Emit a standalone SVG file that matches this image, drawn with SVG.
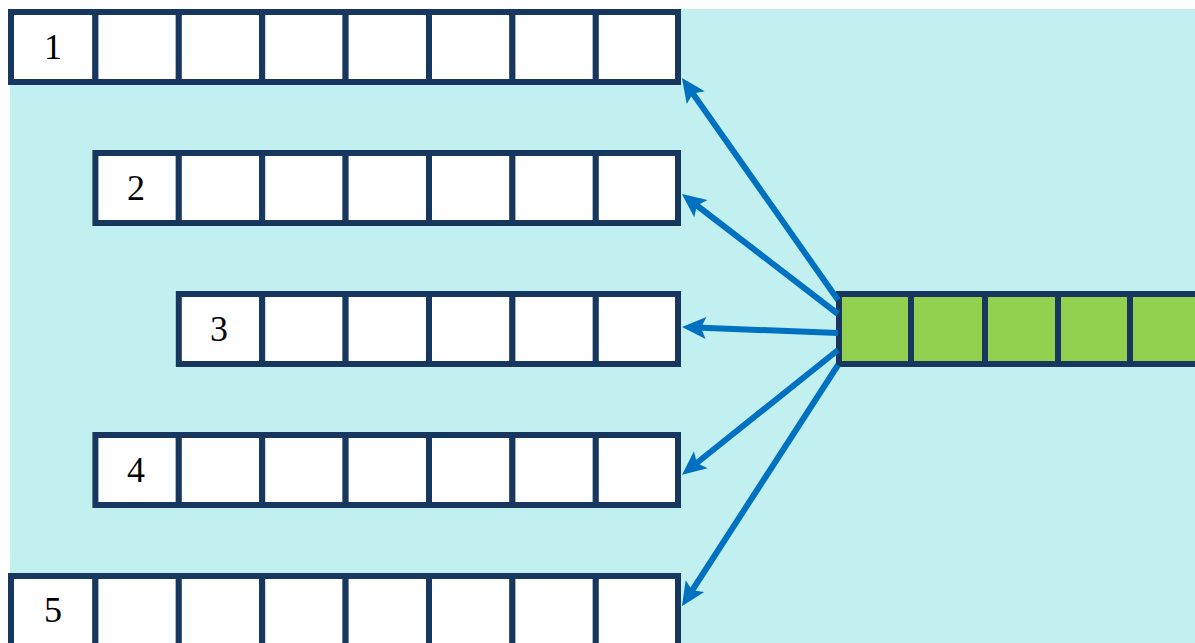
<svg xmlns="http://www.w3.org/2000/svg" width="1195" height="643" viewBox="0 0 1195 643">
<style>
.cell{fill:#FFFFFF;stroke:#17375E;stroke-width:6}
.gcell{fill:#92D050;stroke:#17375E;stroke-width:6}
.lbl{font-family:"Liberation Serif","Times New Roman",serif;font-size:36px;fill:#000;text-anchor:middle}
.arr{stroke:#0070C0;stroke-width:6;fill:none;marker-end:url(#ah)}
</style>
<defs>
<marker id="ah" markerUnits="userSpaceOnUse" markerWidth="26" markerHeight="24" refX="10" refY="11" orient="auto" overflow="visible">
<path d="M0,0 L24,11 L0,22 L5,11 Z" fill="#0070C0"/>
</marker>
</defs>
<rect x="0" y="0" width="1195" height="643" fill="#FFFFFF"/>
<rect x="10" y="9" width="1185" height="634" fill="#C2F0F0"/>
<g id="row1">
<rect class="cell" x="11" y="12" width="84.4" height="70"/>
<rect class="cell" x="95.4" y="12" width="83.4" height="70"/>
<rect class="cell" x="178.8" y="12" width="83.4" height="70"/>
<rect class="cell" x="262.2" y="12" width="83.4" height="70"/>
<rect class="cell" x="345.6" y="12" width="83.4" height="70"/>
<rect class="cell" x="429" y="12" width="83.4" height="70"/>
<rect class="cell" x="512.4" y="12" width="83.4" height="70"/>
<rect class="cell" x="595.8" y="12" width="82.2" height="70"/>
<text class="lbl" x="53" y="59">1</text>
</g>
<g id="row2">
<rect class="cell" x="95.4" y="153" width="83.4" height="70"/>
<rect class="cell" x="178.8" y="153" width="83.4" height="70"/>
<rect class="cell" x="262.2" y="153" width="83.4" height="70"/>
<rect class="cell" x="345.6" y="153" width="83.4" height="70"/>
<rect class="cell" x="429" y="153" width="83.4" height="70"/>
<rect class="cell" x="512.4" y="153" width="83.4" height="70"/>
<rect class="cell" x="595.8" y="153" width="82.2" height="70"/>
<text class="lbl" x="136" y="200">2</text>
</g>
<g id="row3">
<rect class="cell" x="178.8" y="294" width="83.4" height="70"/>
<rect class="cell" x="262.2" y="294" width="83.4" height="70"/>
<rect class="cell" x="345.6" y="294" width="83.4" height="70"/>
<rect class="cell" x="429" y="294" width="83.4" height="70"/>
<rect class="cell" x="512.4" y="294" width="83.4" height="70"/>
<rect class="cell" x="595.8" y="294" width="82.2" height="70"/>
<text class="lbl" x="219" y="341">3</text>
</g>
<g id="row4">
<rect class="cell" x="95.4" y="435" width="83.4" height="70"/>
<rect class="cell" x="178.8" y="435" width="83.4" height="70"/>
<rect class="cell" x="262.2" y="435" width="83.4" height="70"/>
<rect class="cell" x="345.6" y="435" width="83.4" height="70"/>
<rect class="cell" x="429" y="435" width="83.4" height="70"/>
<rect class="cell" x="512.4" y="435" width="83.4" height="70"/>
<rect class="cell" x="595.8" y="435" width="82.2" height="70"/>
<text class="lbl" x="136" y="482">4</text>
</g>
<g id="row5">
<rect class="cell" x="11" y="576" width="84.4" height="80"/>
<rect class="cell" x="95.4" y="576" width="83.4" height="80"/>
<rect class="cell" x="178.8" y="576" width="83.4" height="80"/>
<rect class="cell" x="262.2" y="576" width="83.4" height="80"/>
<rect class="cell" x="345.6" y="576" width="83.4" height="80"/>
<rect class="cell" x="429" y="576" width="83.4" height="80"/>
<rect class="cell" x="512.4" y="576" width="83.4" height="80"/>
<rect class="cell" x="595.8" y="576" width="82.2" height="80"/>
<text class="lbl" x="53" y="622">5</text>
</g>
<g id="source">
<rect class="gcell" x="839" y="294" width="72" height="70"/>
<rect class="gcell" x="911" y="294" width="74" height="70"/>
<rect class="gcell" x="985" y="294" width="73" height="70"/>
<rect class="gcell" x="1058" y="294" width="72" height="70"/>
<rect class="gcell" x="1130" y="294" width="73" height="70"/>
</g>
<g id="connectors">
<line class="arr" x1="838" y1="300" x2="690" y2="89.5"/>
<line class="arr" x1="838" y1="314" x2="693" y2="202.5"/>
<line class="arr" x1="838" y1="333" x2="696" y2="327.5"/>
<line class="arr" x1="838" y1="350" x2="693" y2="466"/>
<line class="arr" x1="838" y1="365" x2="689.5" y2="594.5"/>
</g>
</svg>
